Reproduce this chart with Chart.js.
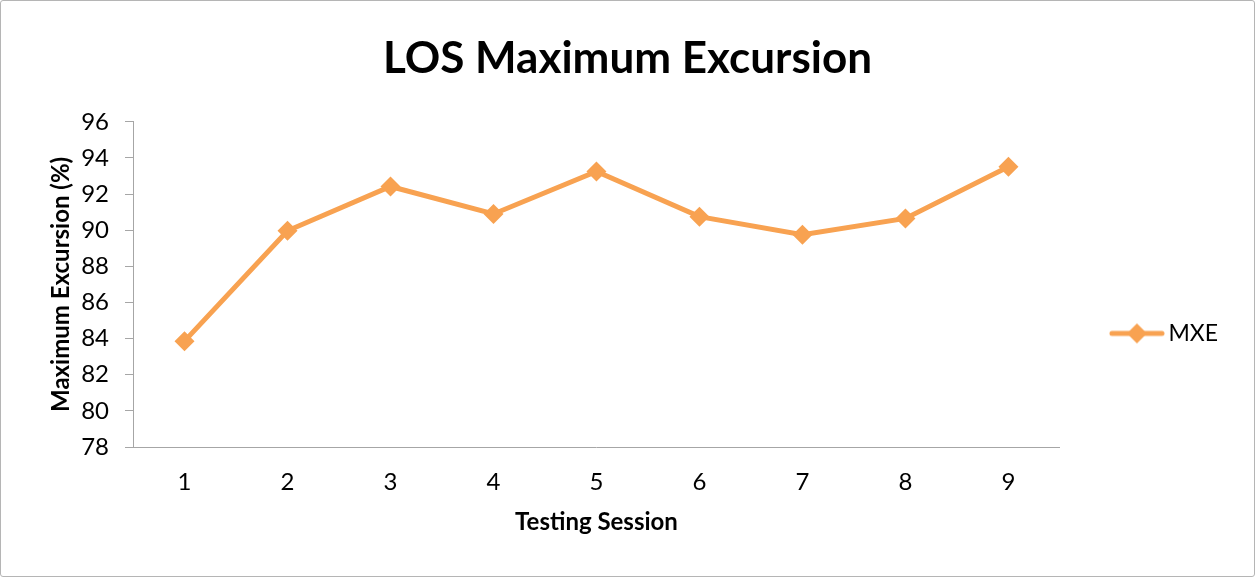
<!DOCTYPE html>
<html lang="en">
<head>
    <meta charset="UTF-8">
    <title>LOS Maximum Excursion</title>
    <script src="https://cdn.jsdelivr.net/npm/chart.js"></script>
    <style>
        html, body { margin: 0; padding: 0; background: #fff; }
        .frame {
            width: 1255px;
            height: 577px;
            box-sizing: border-box;
            border: 1px solid #b5b5b5;
            border-radius: 3px;
            position: relative;
        }
    </style>
</head>
<body>
    <div class="frame">
        <canvas id="mxeChart"></canvas>
    </div>

    <script>
        // Données
        var sessions = ['1', '2', '3', '4', '5', '6', '7', '8', '9'];
        var mxeValues = [83.86, 89.97, 92.42, 90.90, 93.25, 90.75, 89.75, 90.65, 93.51];
        var seriesName = 'MXE';
        var yMin = 78, yMax = 96, yStep = 2;

        var orange = '#F8A251';
        var font = 'Lato, "Open Sans", sans-serif';

        // Petit symbole de légende : trait + losange
        function legendSymbol() {
            var c = document.createElement('canvas');
            c.width = 56; c.height = 22;
            var g = c.getContext('2d');
            g.strokeStyle = orange;
            g.lineWidth = 5;
            g.lineCap = 'round';
            g.beginPath();
            g.moveTo(3, 11); g.lineTo(53, 11);
            g.stroke();
            g.fillStyle = orange;
            g.beginPath();
            g.moveTo(28, 1); g.lineTo(38, 11); g.lineTo(28, 21); g.lineTo(18, 11);
            g.closePath();
            g.fill();
            return c;
        }

        // Décale la légende vers le bas et recentre le titre sur toute la largeur
        var layoutTweaks = {
            id: 'layoutTweaks',
            afterLayout: function (chart) {
                if (chart.legend) {
                    chart.legend.top += 49;
                    chart.legend.bottom += 49;
                }
                if (chart.titleBlock) {
                    chart.titleBlock.left += 13;
                    chart.titleBlock.right += 13;
                }
            }
        };

        var config = {
            type: 'line',
            data: {
                labels: sessions,
                datasets: [{
                    label: seriesName,
                    data: mxeValues,
                    borderColor: orange,
                    backgroundColor: orange,
                    borderWidth: 5,
                    pointStyle: 'rectRot',
                    pointRadius: 10,
                    pointHoverRadius: 10,
                    pointBorderWidth: 0,
                    tension: 0,
                    fill: false
                }]
            },
            options: {
                responsive: true,
                maintainAspectRatio: false,
                animation: false,
                layout: { padding: { left: 0, right: 26, top: 0, bottom: 0 } },
                plugins: {
                    title: {
                        display: true,
                        text: 'LOS Maximum Excursion',
                        color: '#000',
                        font: { family: font, size: 44, weight: 'bold', lineHeight: 1.2 },
                        padding: { top: 31, bottom: 37 }
                    },
                    legend: {
                        position: 'right',
                        fullSize: false,
                        labels: {
                            color: '#000',
                            font: { family: font, size: 23 },
                            usePointStyle: true,
                            pointStyleWidth: 40,
                            padding: 57,
                            generateLabels: function (chart) {
                                return [{
                                    text: seriesName,
                                    pointStyle: legendSymbol(),
                                    fillStyle: orange,
                                    strokeStyle: orange,
                                    lineWidth: 0,
                                    datasetIndex: 0,
                                    fontColor: '#000'
                                }];
                            }
                        }
                    },
                    tooltip: { enabled: false }
                },
                scales: {
                    x: {
                        offset: true,
                        grid: { display: false, drawTicks: false },
                        border: { display: true, color: '#a6a6a6', width: 1 },
                        ticks: {
                            color: '#000',
                            font: { family: font, size: 24 },
                            padding: 21
                        },
                        title: {
                            display: true,
                            text: 'Testing Session',
                            color: '#000',
                            font: { family: font, size: 24, weight: 'bold', lineHeight: 1.2 },
                            padding: { top: 0, bottom: 39 }
                        },
                        afterFit: function (scale) { scale.height = 129; }
                    },
                    y: {
                        min: yMin,
                        max: yMax,
                        ticks: {
                            stepSize: yStep,
                            color: '#000',
                            font: { family: font, size: 24 },
                            padding: 16
                        },
                        grid: {
                            drawOnChartArea: false,
                            drawTicks: true,
                            tickLength: 8,
                            color: '#a6a6a6'
                        },
                        border: { display: true, color: '#a6a6a6', width: 1 },
                        title: {
                            display: true,
                            text: 'Maximum Excursion (%)',
                            color: '#000',
                            font: { family: font, size: 24, weight: 'bold', lineHeight: 1.2 },
                            padding: { top: 46, bottom: 0 }
                        },
                        afterFit: function (scale) { scale.width = 132; }
                    }
                }
            },
            plugins: [layoutTweaks]
        };

        var mxeChart = new Chart(document.getElementById('mxeChart'), config);
    </script>
</body>
</html>
